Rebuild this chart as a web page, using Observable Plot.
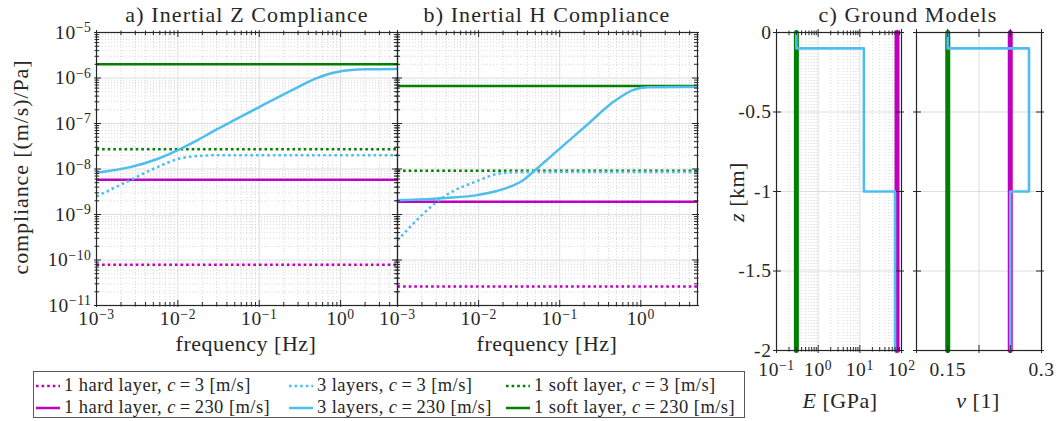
<!DOCTYPE html>
<html><head><meta charset="utf-8">
<script src="https://cdn.jsdelivr.net/npm/d3@7"></script>
<script src="https://cdn.jsdelivr.net/npm/@observablehq/plot@0.6"></script>
<style>
body{margin:0;background:#fff;font-family:"Liberation Serif",serif;color:#262626}
#wrap{position:relative;width:1059px;height:421px;overflow:hidden;background:#fff}
.abs{position:absolute;white-space:nowrap;font-family:"Liberation Serif",serif;line-height:1}
.title{font-size:22px;letter-spacing:1.1px;transform:translate(-50%,-50%)}
.alab{font-size:22px;letter-spacing:0.5px;transform:translate(-50%,-50%)}
.ylab{font-size:22px;letter-spacing:0.9px;transform:translate(-50%,-50%) rotate(-90deg)}
.rot{transform:translate(-50%,-50%) rotate(-90deg)}
#legend{position:absolute;left:33px;top:371px;width:712px;height:47px;border:1px solid #5a5a5a;background:#fff;box-sizing:border-box}
.lg{position:absolute;font-size:18.5px;letter-spacing:0.45px;display:flex;align-items:center;height:21px;white-space:nowrap;font-family:"Liberation Serif",serif}
.lg svg{margin-right:3px}
.eq{margin:0 4px}
</style></head><body><div id="wrap"></div>
<script>
// ---------------- data ----------------
const colors = {hard: "#bf00bf", layers: "#4dbeee", soft: "#008000"};
const freqRange = [0.001, 5];

// a) Inertial Z compliance  [(m/s)/Pa]
const zHard3 = [7.9e-11, 7.9e-11];
const zHard230 = [5.8e-9, 5.8e-9];
const zSoft3 = [2.7e-8, 2.7e-8];
const zSoft230 = [2.0e-6, 2.0e-6];
const zLayers3F = [0.001, 0.0026, 0.0056, 0.01, 0.019, 0.03, 0.1, 1, 5];
const zLayers3 = [2.5e-9, 5.7e-9, 1.1e-8, 1.66e-8, 1.95e-8, 2.0e-8, 2.0e-8, 2.0e-8, 2.0e-8];
const zLayers230F = [0.001, 0.0026, 0.0056, 0.01, 0.017, 0.03, 0.05, 0.1, 0.3, 0.5, 1, 2, 5];
const zLayers230 = [8.3e-9, 1.1e-8, 1.66e-8, 2.6e-8, 4.2e-8, 7.4e-8, 1.2e-7, 2.3e-7, 6.3e-7, 9.8e-7, 1.4e-6, 1.55e-6, 1.58e-6];

// b) Inertial H compliance
const hHard3 = [2.6e-11, 2.6e-11];
const hHard230 = [1.9e-9, 1.9e-9];
const hSoft3 = [9.2e-9, 9.2e-9];
const hSoft230 = [6.7e-7, 6.7e-7];
const hLayers3F = [0.001, 0.0039, 0.01, 0.017, 0.03, 0.1, 5];
const hLayers3 = [2.7e-10, 2.6e-9, 5.6e-9, 7.8e-9, 8.5e-9, 8.6e-9, 8.6e-9];
const hLayers230F = [0.001, 0.0039, 0.01, 0.021, 0.035, 0.05, 0.067, 0.1, 0.22, 0.46, 0.81, 1.2, 5];
const hLayers230 = [2.05e-9, 2.3e-9, 2.7e-9, 3.7e-9, 5.6e-9, 9.5e-9, 1.5e-8, 2.8e-8, 9.5e-8, 3.0e-7, 5.5e-7, 6.3e-7, 6.4e-7];

// c) Ground models (depth in km, E in GPa, nu)
const layerTop = [0, -0.1, -1];
const layerBottom = [-0.1, -1, -2];
const layersE = [0.3, 12.5, 70];
const layersNu = [0.15, 0.28, 0.25];
const hardE = 78, hardNu = 0.25;
const softE = 0.3, softNu = 0.15;
const depthRange = [0, -2];

// tick labels
const freqTickLabels = [0.001, 0.01, 0.1, 1];
const complianceTicks = [1e-11, 1e-10, 1e-9, 1e-8, 1e-7, 1e-6, 1e-5];
const eTicks = [0.1, 1, 10, 100];
const depthTicks = [0, -0.5, -1, -1.5, -2];
const nuTicks = [0.1, 0.15, 0.2, 0.25, 0.3];
const nuTickLabels = [0.15, 0.3];

const legendLabels = [
  ["1 hard layer", 3, "hard", true], ["3 layers", 3, "layers", true], ["1 soft layer", 3, "soft", true],
  ["1 hard layer", 230, "hard", false], ["3 layers", 230, "layers", false], ["1 soft layer", 230, "soft", false]
];

// ---------------- helpers ----------------
const AX = "#262626", GRID = "#dedede", MGRID = "#cfcfcf";
const wrap = document.getElementById("wrap");

function minorLog(lo, hi) {
  const out = [];
  for (let e = Math.floor(Math.log10(lo)); e <= Math.ceil(Math.log10(hi)); e++) {
    const b = Math.pow(10, e);
    for (let k = 2; k <= 9; k++) { const v = k * b; if (v > lo * 1.0001 && v < hi * 0.9999) out.push(v); }
  }
  return out;
}
const pow10fmt = d => "10^" + Math.round(Math.log10(d));

function superscripts(svg) {
  svg.querySelectorAll("text").forEach(t => {
    const m = /^10\^(-?\d+)$/.exec(t.textContent);
    if (m) {
      t.textContent = "10";
      const ts = document.createElementNS("http://www.w3.org/2000/svg", "tspan");
      ts.setAttribute("dy", "-0.48em");
      ts.setAttribute("font-size", "0.7em");
      ts.textContent = m[1].replace("-", "\u2212");
      t.appendChild(ts);
    }
  });
}

function place(el, left, top) {
  el.style.position = "absolute"; el.style.left = left + "px"; el.style.top = top + "px";
  wrap.appendChild(el);
}
function label(html, x, y, cls) {
  const d = document.createElement("div");
  d.className = "abs " + cls; d.innerHTML = html;
  d.style.left = x + "px"; d.style.top = y + "px";
  wrap.appendChild(d);
}

function series(F, V) { return F.map((f, i) => ({f, v: V[i]})); }
function flat(V) { return series(freqRange, V); }

// x/y tick marks crossing the frame
function xTicks(vals, FH, inner, outer) {
  return [
    Plot.ruleX(vals, {x: d => d, insetTop: FH - inner, insetBottom: -outer, stroke: AX, strokeWidth: 1}),
    Plot.ruleX(vals, {x: d => d, insetBottom: FH - inner, insetTop: -outer, stroke: AX, strokeWidth: 1})
  ];
}
function yTicks(vals, FW, inner, outer) {
  return [
    Plot.ruleY(vals, {y: d => d, insetRight: FW - inner, insetLeft: -outer, stroke: AX, strokeWidth: 1}),
    Plot.ruleY(vals, {y: d => d, insetLeft: FW - inner, insetRight: -outer, stroke: AX, strokeWidth: 1})
  ];
}

const baseStyle = {fontFamily: "'Liberation Serif', serif", fontSize: "19.5px", letterSpacing: "0.6px", color: AX, background: "transparent", overflow: "visible"};

function compliancePanel(d, showY) {
  const ML = showY ? 96 : 17, MR = 3, MT = 32, MB = 55;
  const W = showY ? 400 : 320, H = 360;
  const FW = W - ML - MR, FH = H - MT - MB;
  const xMinor = minorLog(freqRange[0], freqRange[1]);
  const yMinor = minorLog(1e-11, 1e-5);
  const line = (data, c, dotted) => Plot.line(data, {x: "f", y: "v", stroke: c, strokeWidth: 2.5, curve: "monotone-x",
    strokeDasharray: dotted ? "2.6,3" : null, strokeLinecap: "butt"});
  const marks = [
    Plot.ruleX(xMinor, {x: d => d, stroke: MGRID, strokeWidth: 0.8, strokeDasharray: "1,2"}),
    Plot.ruleY(yMinor, {y: d => d, stroke: MGRID, strokeWidth: 0.8, strokeDasharray: "1,2"}),
    Plot.ruleX(freqTickLabels, {x: d => d, stroke: GRID, strokeWidth: 1}),
    Plot.ruleY(complianceTicks, {y: d => d, stroke: GRID, strokeWidth: 1}),
    line(flat(d.hard3), colors.hard, true),
    line(flat(d.hard230), colors.hard, false),
    line(flat(d.soft3), colors.soft, true),
    line(flat(d.soft230), colors.soft, false),
    line(series(d.l3F, d.l3), colors.layers, true),
    line(series(d.l230F, d.l230), colors.layers, false),
    ...xTicks(xMinor, FH, 3, 1.5), ...xTicks(freqTickLabels, FH, 5, 2),
    ...yTicks(yMinor, FW, 3, 1.5), ...yTicks(complianceTicks, FW, 5, 2),
    Plot.frame({stroke: AX, strokeWidth: 1.2}),
    Plot.axisX({ticks: freqTickLabels, tickFormat: pow10fmt, tickSize: 0, tickPadding: 6, label: null}),
  ];
  if (showY) marks.push(Plot.axisY({ticks: complianceTicks, tickFormat: pow10fmt, tickSize: 0, tickPadding: 5, label: null}));
  const p = Plot.plot({width: W, height: H, marginLeft: ML, marginRight: MR, marginTop: MT, marginBottom: MB,
    x: {type: "log", domain: freqRange, axis: null}, y: {type: "log", domain: [1e-11, 1e-5], axis: null}, style: baseStyle, marks});
  superscripts(p);
  return p;
}

const pA = compliancePanel({hard3: zHard3, hard230: zHard230, soft3: zSoft3, soft230: zSoft230,
  l3F: zLayers3F, l3: zLayers3, l230F: zLayers230F, l230: zLayers230}, true);
place(pA, 0, 0);
const pB = compliancePanel({hard3: hHard3, hard230: hHard230, soft3: hSoft3, soft230: hSoft230,
  l3F: hLayers3F, l3: hLayers3, l230F: hLayers230F, l230: hLayers230}, false);
place(pB, 380, 0);

// ground model step profiles
function steps(vals) {
  const out = [];
  vals.forEach((v, i) => { out.push({x: v, z: layerTop[i]}); out.push({x: v, z: layerBottom[i]}); });
  return out;
}
function constProfile(v) { return depthRange.map(z => ({x: v, z})); }

function groundPanel(kind) {
  const isE = kind === "E";
  const ML = isE ? 76 : 11, MR = isE ? 9 : 18, MT = 32, MB = 71, H = 421;
  const W = isE ? 210 : 154;
  const FW = W - ML - MR, FH = H - MT - MB;
  const xMinor = isE ? minorLog(0.1, 100) : [];
  const xMaj = isE ? eTicks : nuTicks;
  const marks = [
    Plot.ruleX(xMinor, {x: d => d, stroke: MGRID, strokeWidth: 0.8, strokeDasharray: "1,2"}),
    Plot.ruleX(xMaj, {x: d => d, stroke: GRID, strokeWidth: 1}),
    Plot.ruleY(depthTicks, {y: d => d, stroke: GRID, strokeWidth: 1}),
    Plot.line(constProfile(isE ? softE : softNu), {x: "x", y: "z", stroke: colors.soft, strokeWidth: 5}),
    Plot.line(constProfile(isE ? hardE : hardNu), {x: "x", y: "z", stroke: colors.hard, strokeWidth: 5}),
    Plot.line(steps(isE ? layersE : layersNu), {x: "x", y: "z", stroke: colors.layers, strokeWidth: 2.6}),
    ...xTicks(xMinor, FH, 3, 1.5), ...xTicks(xMaj, FH, 5, 3),
    ...yTicks(depthTicks, FW, 5, 3),
    Plot.frame({stroke: AX, strokeWidth: 1.2}),
    isE ? Plot.axisX({ticks: eTicks, tickFormat: pow10fmt, tickSize: 0, tickPadding: 12, label: null})
        : Plot.axisX({ticks: nuTickLabels, tickFormat: d => String(d), tickSize: 0, tickPadding: 12, label: null}),
  ];
  if (isE) marks.push(Plot.axisY({ticks: depthTicks, tickFormat: d => String(d), tickSize: 0, tickPadding: 5, label: null}));
  const p = Plot.plot({width: W, height: H, marginLeft: ML, marginRight: MR, marginTop: MT, marginBottom: MB,
    x: isE ? {type: "log", domain: [0.1, 100], axis: null} : {type: "linear", domain: [0.1, 0.3], axis: null},
    y: {domain: [-2, 0], axis: null}, style: baseStyle, marks});
  superscripts(p);
  return p;
}
place(groundPanel("E"), 700, 0);
place(groundPanel("nu"), 905, 0);

// titles & axis labels
label("a) Inertial Z Compliance", 247, 15, "title");
label("b) Inertial H Compliance", 547, 15, "title");
label("c) Ground Models", 908, 15, "title");
label("frequency [Hz]", 246, 344, "alab");
label("frequency [Hz]", 547, 344, "alab");
label("compliance [(m/s)/Pa]", 21, 167, "ylab");
label("<i>z</i> [km]", 737, 192, "alab rot");
label("<i>E</i> [GPa]", 840, 401, "alab");
label("<i>ν</i> [1]", 978, 401, "alab");

// legend
const lg = document.createElement("div"); lg.id = "legend"; wrap.appendChild(lg);
const colX = [1, 254, 471], rowY = [3, 25];
legendLabels.forEach(([name, c, kind, dotted], i) => {
  const e = document.createElement("div"); e.className = "lg";
  e.style.left = colX[i % 3] + "px"; e.style.top = rowY[Math.floor(i / 3)] + "px";
  const sw = `<svg width="26" height="10"><line x1="1" y1="5" x2="25" y2="5" stroke="${colors[kind]}" stroke-width="2.5" ${dotted ? 'stroke-dasharray="2.6,3"' : ""}/></svg>`;
  e.innerHTML = sw + `<span>${name}, <i>c</i><span class="eq">=</span>${c} [m/s]</span>`;
  lg.appendChild(e);
});
</script></body></html>
